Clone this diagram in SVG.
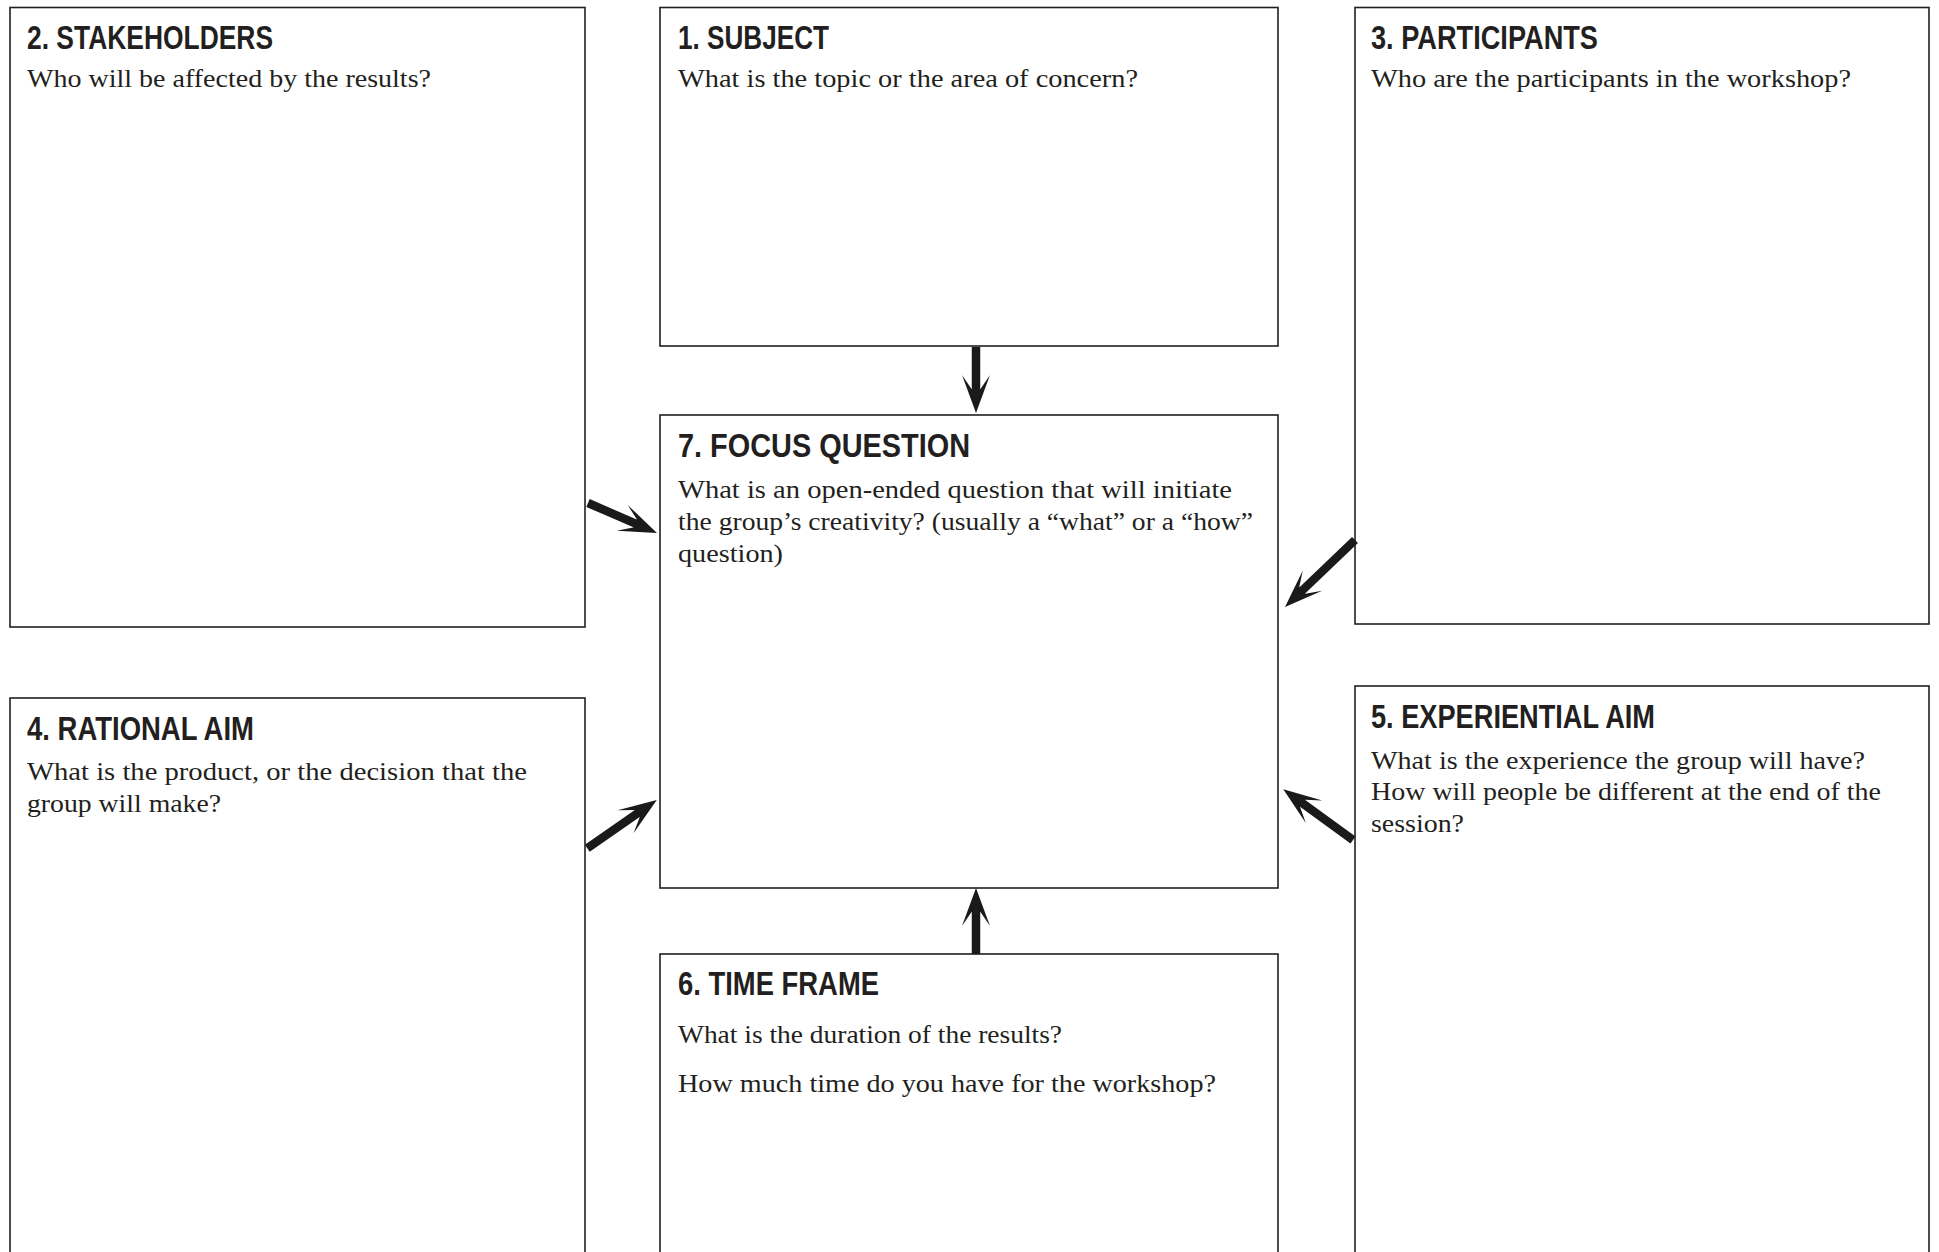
<svg xmlns="http://www.w3.org/2000/svg" width="1939" height="1252" viewBox="0 0 1939 1252">
  <style>
    .box { fill: #ffffff; stroke: #231f20; stroke-width: 1.6; }
    .head { font-family: "Liberation Sans", Arial, sans-serif; font-weight: bold; font-size: 34px; fill: #231f20; }
    .body { font-family: "Liberation Serif", "Times New Roman", serif; font-size: 26px; fill: #231f20; }
    .link { stroke: #1a1a1a; stroke-width: 8.5; fill: none; stroke-linecap: butt; marker-end: url(#barb); }
  </style>
  <defs>
    <!-- swept-back arrowhead; tip sits 22 units beyond the shaft end -->
    <marker id="barb" markerUnits="userSpaceOnUse" viewBox="0 -15 40 30" refX="16" refY="0" markerWidth="40" markerHeight="30" orient="auto">
      <path d="M0,-14 L38,0 L0,14 L14,4.5 L14,-4.5 Z" fill="#1a1a1a"/>
    </marker>
  </defs>

  <rect width="1939" height="1252" fill="#ffffff"/>

  <g id="node-stakeholders">
    <rect class="box" x="10" y="7.5" width="575" height="619.5"/>
    <text class="head" x="27" y="48.5" textLength="246" lengthAdjust="spacingAndGlyphs">2. STAKEHOLDERS</text>
    <text class="body" x="27" y="87" textLength="404" lengthAdjust="spacingAndGlyphs">Who will be affected by the results?</text>
  </g>

  <g id="node-subject">
    <rect class="box" x="660" y="7.5" width="618" height="338.5"/>
    <text class="head" x="678" y="48.5" textLength="151" lengthAdjust="spacingAndGlyphs">1. SUBJECT</text>
    <text class="body" x="678" y="87" textLength="460" lengthAdjust="spacingAndGlyphs">What is the topic or the area of concern?</text>
  </g>

  <g id="node-participants">
    <rect class="box" x="1355" y="7.5" width="574" height="616.5"/>
    <text class="head" x="1371" y="48.5" textLength="227" lengthAdjust="spacingAndGlyphs">3. PARTICIPANTS</text>
    <text class="body" x="1371" y="87" textLength="480" lengthAdjust="spacingAndGlyphs">Who are the participants in the workshop?</text>
  </g>

  <g id="node-focus-question">
    <rect class="box" x="660" y="415" width="618" height="473"/>
    <text class="head" x="678" y="457" textLength="292" lengthAdjust="spacingAndGlyphs">7. FOCUS QUESTION</text>
    <text class="body" x="678" y="497.5" textLength="554" lengthAdjust="spacingAndGlyphs">What is an open-ended question that will initiate</text>
    <text class="body" x="678" y="529.5" textLength="575" lengthAdjust="spacingAndGlyphs">the group’s creativity? (usually a “what” or a “how”</text>
    <text class="body" x="678" y="561.5" textLength="105" lengthAdjust="spacingAndGlyphs">question)</text>
  </g>

  <g id="node-rational-aim">
    <rect class="box" x="10" y="698" width="575" height="570"/>
    <text class="head" x="27" y="739.5" textLength="227" lengthAdjust="spacingAndGlyphs">4. RATIONAL AIM</text>
    <text class="body" x="27" y="779.5" textLength="500" lengthAdjust="spacingAndGlyphs">What is the product, or the decision that the</text>
    <text class="body" x="27" y="811.5" textLength="194" lengthAdjust="spacingAndGlyphs">group will make?</text>
  </g>

  <g id="node-experiential-aim">
    <rect class="box" x="1355" y="686" width="574" height="580"/>
    <text class="head" x="1371" y="728" textLength="284" lengthAdjust="spacingAndGlyphs">5. EXPERIENTIAL AIM</text>
    <text class="body" x="1371" y="768.5" textLength="494" lengthAdjust="spacingAndGlyphs">What is the experience the group will have?</text>
    <text class="body" x="1371" y="800" textLength="510" lengthAdjust="spacingAndGlyphs">How will people be different at the end of the</text>
    <text class="body" x="1371" y="831.5" textLength="93" lengthAdjust="spacingAndGlyphs">session?</text>
  </g>

  <g id="node-time-frame">
    <rect class="box" x="660" y="954" width="618" height="320"/>
    <text class="head" x="678" y="995" textLength="201" lengthAdjust="spacingAndGlyphs">6. TIME FRAME</text>
    <text class="body" x="678" y="1043" textLength="384" lengthAdjust="spacingAndGlyphs">What is the duration of the results?</text>
    <text class="body" x="678" y="1092" textLength="538" lengthAdjust="spacingAndGlyphs">How much time do you have for the workshop?</text>
  </g>

  <g id="connectors">
    <line class="link" x1="976" y1="347" x2="976" y2="391"/>
    <line class="link" x1="588" y1="503" x2="636.8" y2="524.2"/>
    <line class="link" x1="1355" y1="540" x2="1300.9" y2="591.8"/>
    <line class="link" x1="587.3" y1="848.3" x2="638.7" y2="812.6"/>
    <line class="link" x1="1353" y1="840" x2="1301.1" y2="802.3"/>
    <line class="link" x1="976" y1="954" x2="976" y2="910"/>
  </g>
</svg>
